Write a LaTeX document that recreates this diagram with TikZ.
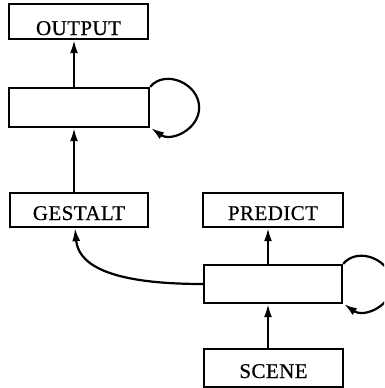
\documentclass[tikz,border=0pt]{standalone}
\usepackage{fontspec}
\setmainfont{Liberation Serif}[LetterSpace=2,FakeBold=0.6]
\usetikzlibrary{arrows.meta}
\begin{document}
\begin{tikzpicture}[x=1pt,y=-1pt,
  box/.style={draw, line width=2.3pt, inner sep=0pt,
    font=\fontsize{21}{24}\selectfont, text height=20pt, text depth=0pt},
  flow/.style={line width=2.2pt, -{Latex[length=13pt,width=8pt]}}]
\useasboundingbox (0,0) rectangle (384,388);
\clip (0,0) rectangle (384,388);

% boxes
\node[box, minimum width=139pt, minimum height=35pt, text height=27pt] (out) at (78.5,21.5) {OUTPUT};
\node[box, minimum width=140pt, minimum height=39pt] (m1) at (79,107.5) {};
\node[box, minimum width=138pt, minimum height=34pt] (g) at (79,210) {GESTALT};
\node[box, minimum width=140pt, minimum height=34pt] (p) at (273,210) {PREDICT};
\node[box, minimum width=138pt, minimum height=38pt] (m2) at (273,284) {};
\node[box, minimum width=139pt, minimum height=38pt] (s) at (273.5,368) {SCENE};

% straight connectors
\draw[flow] ([xshift=-5pt]m1.north) -- ([xshift=-5pt]m1.north |- out.south);
\draw[flow] ([xshift=-5pt]m1.north |- g.north) -- ([xshift=-5pt]m1.south);
\draw[flow] ([xshift=-5pt]m2.north) -- ([xshift=-5pt]m2.north |- p.south);
\draw[flow] ([xshift=-5pt]m2.north |- s.north) -- ([xshift=-5pt]m2.south);

% curved connector into GESTALT
\draw[flow] (m2.west) .. controls +(-104,0) and +(3,32) .. ([xshift=-4pt]g.south);

% recurrent loops, each a near-circle from the top corner back to the bottom corner
\foreach \m in {m1,m2}
  \draw[flow] (\m.north east) .. controls +(15,-18) and +(0,-24) .. ([xshift=49pt]\m.east)
    .. controls +(0,22) and +(20,14) .. ([xshift=1pt]\m.south east);
\end{tikzpicture}
\end{document}
